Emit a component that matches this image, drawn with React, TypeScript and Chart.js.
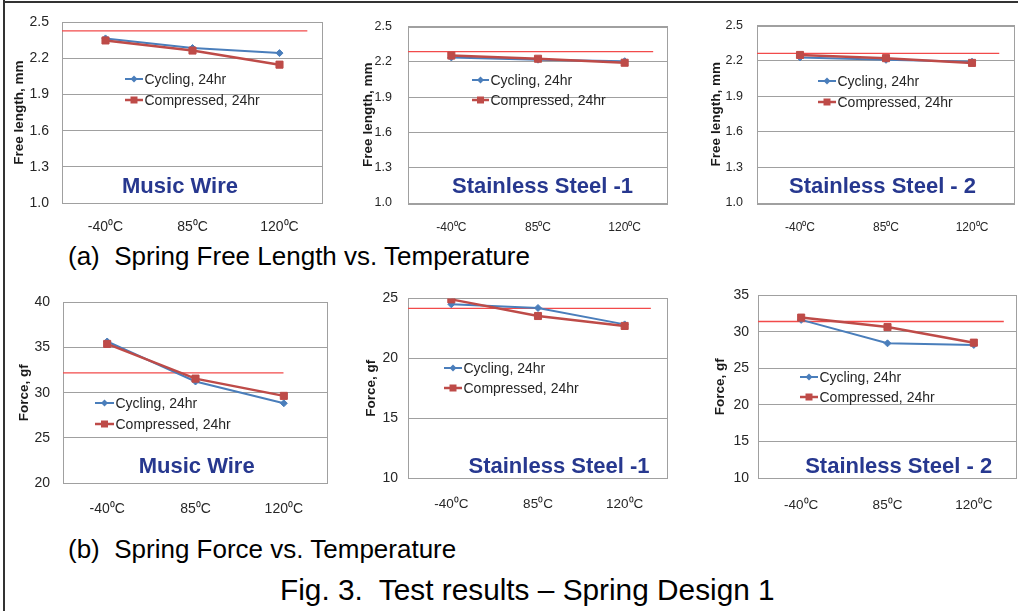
import React, { useEffect, useRef } from 'react';
import { Chart, registerables } from 'chart.js';

Chart.register(...registerables);
Chart.defaults.font.family = '"Liberation Sans", Arial, sans-serif';

// ---------- data ----------
const categories = ['-40\u2070C', '85\u2070C', '120\u2070C'];
const seriesNames = ['Cycling, 24hr', 'Compressed, 24hr'];

// (a) free length, mm
const musicWireCyclingLength = [2.367, 2.287, 2.245];
const musicWireCompressedLength = [2.35, 2.266, 2.149];
const ss1CyclingLength = [2.237, 2.218, 2.205];
const ss1CompressedLength = [2.253, 2.226, 2.192];
const ss2CyclingLength = [2.23, 2.21, 2.194];
const ss2CompressedLength = [2.251, 2.224, 2.184];

// (b) force, gf
const musicWireCyclingForce = [35.67, 31.24, 28.83];
const musicWireCompressedForce = [35.4, 31.56, 29.65];
const ss1CyclingForce = [24.51, 24.2, 22.83];
const ss1CompressedForce = [24.92, 23.53, 22.7];
const ss2CyclingForce = [31.65, 28.44, 28.22];
const ss2CompressedForce = [31.96, 30.66, 28.53];

// horizontal reference lines (value, and end of the line on a 0..1 axis)
const referenceLength = [2.43, 2.286, 2.265];
const referenceForce = [32.2, 24.16, 31.43];
const referenceLineEnd = [0.94, 0.943, 0.939, 0.832, 0.934, 0.949];

// tick labels
const lengthTicks = [1.0, 1.3, 1.6, 1.9, 2.2, 2.5];
const musicWireForceTicks = [20, 25, 30, 35, 40];
const ss1ForceTicks = [10, 15, 20, 25];
const ss2ForceTicks = [10, 15, 20, 25, 30, 35];

const materialNames = ['Music Wire', 'Stainless Steel -1', 'Stainless Steel - 2'];
const axisTitles = ['Free length, mm', 'Force, gf'];

// ---------- styles / layout ----------
const GRID = '#a0a0a0';
const BLUE = '#4a7ebb';
const RED = '#be4b48';
const REF = '#f24a4a';
const TITLE_BLUE = '#27388f';
const FONT = '"Liberation Sans", Arial, sans-serif';

type PanelSpec = {
  title: string;
  axisTitle: string;
  cycling: number[];
  compressed: number[];
  ticks: number[];
  decimals: number;
  ref: number;
  refEnd: number;
  plot: { l: number; r: number; t: number; b: number };
  axisTitleX: number;
  tickPad: number;
  xTickPad: number;
  yFont: number;
  xFont: number;
  legend: { x: number; textX: number; y1: number; y2: number };
  titleX: number;
  titleY: number;
};

const panels: PanelSpec[] = [
  {
    title: materialNames[0], axisTitle: axisTitles[0],
    cycling: musicWireCyclingLength, compressed: musicWireCompressedLength,
    ticks: lengthTicks, decimals: 1, ref: referenceLength[0], refEnd: referenceLineEnd[0],
    plot: { l: 62, r: 325, t: 15, b: 203 }, axisTitleX: 19, tickPad: 13, xTickPad: 8,
    yFont: 14, xFont: 14,
    legend: { x: 125, textX: 144, y1: 79, y2: 100 }, titleX: 180, titleY: 193,
  },
  {
    title: materialNames[1], axisTitle: axisTitles[0],
    cycling: ss1CyclingLength, compressed: ss1CompressedLength,
    ticks: lengthTicks, decimals: 1, ref: referenceLength[1], refEnd: referenceLineEnd[1],
    plot: { l: 408, r: 670, t: 17, b: 203 }, axisTitleX: 368, tickPad: 16, xTickPad: 9,
    yFont: 12.5, xFont: 12,
    legend: { x: 472, textX: 490, y1: 80, y2: 100 }, titleX: 542.5, titleY: 193,
  },
  {
    title: materialNames[2], axisTitle: axisTitles[0],
    cycling: ss2CyclingLength, compressed: ss2CompressedLength,
    ticks: lengthTicks, decimals: 1, ref: referenceLength[2], refEnd: referenceLineEnd[2],
    plot: { l: 757, r: 1017, t: 18, b: 203 }, axisTitleX: 716, tickPad: 14, xTickPad: 9,
    yFont: 12.5, xFont: 12,
    legend: { x: 818, textX: 837, y1: 81, y2: 102 }, titleX: 882.5, titleY: 193,
  },
  {
    title: materialNames[0], axisTitle: axisTitles[1],
    cycling: musicWireCyclingForce, compressed: musicWireCompressedForce,
    ticks: musicWireForceTicks, decimals: 0, ref: referenceForce[0], refEnd: referenceLineEnd[3],
    plot: { l: 63, r: 330, t: 295, b: 483 }, axisTitleX: 24.5, tickPad: 13, xTickPad: 10,
    yFont: 14, xFont: 14,
    legend: { x: 95, textX: 115, y1: 403, y2: 424 }, titleX: 196.7, titleY: 473,
  },
  {
    title: materialNames[1], axisTitle: axisTitles[1],
    cycling: ss1CyclingForce, compressed: ss1CompressedForce,
    ticks: ss1ForceTicks, decimals: 0, ref: referenceForce[1], refEnd: referenceLineEnd[4],
    plot: { l: 408, r: 670, t: 294, b: 478 }, axisTitleX: 371, tickPad: 10, xTickPad: 10,
    yFont: 14, xFont: 13.5,
    legend: { x: 444, textX: 463, y1: 368, y2: 388 }, titleX: 559, titleY: 473,
  },
  {
    title: materialNames[2], axisTitle: axisTitles[1],
    cycling: ss2CyclingForce, compressed: ss2CompressedForce,
    ticks: ss2ForceTicks, decimals: 0, ref: referenceForce[2], refEnd: referenceLineEnd[5],
    plot: { l: 758, r: 1019, t: 292, b: 478 }, axisTitleX: 720, tickPad: 9, xTickPad: 11,
    yFont: 14, xFont: 13.5,
    legend: { x: 800, textX: 819, y1: 377, y2: 397 }, titleX: 898.7, titleY: 473,
  },
];

function drawMarker(ctx: CanvasRenderingContext2D, shape: string, x: number, y: number, color: string) {
  ctx.fillStyle = color;
  ctx.beginPath();
  if (shape === 'diamond') {
    const r = 3.5;
    ctx.moveTo(x, y - r);
    ctx.lineTo(x + r, y);
    ctx.lineTo(x, y + r);
    ctx.lineTo(x - r, y);
    ctx.closePath();
  } else {
    const s = 3.5;
    ctx.rect(x - s, y - s, 2 * s, 2 * s);
  }
  ctx.fill();
}

function PanelChart({ p }: { p: PanelSpec }) {
  const ref = useRef<HTMLCanvasElement | null>(null);
  const cl = Math.floor(p.axisTitleX - 14);
  const ct = Math.floor(p.plot.t - 14);
  const cw = Math.round(p.plot.r + 4 - cl);
  const ch = Math.round(p.plot.b + 34 - ct);
  const yw = p.plot.l - cl;
  const xh = ct + ch - p.plot.b;
  const titleFontSize = 13.5;
  const titlePadTop = p.axisTitleX - cl - (titleFontSize * 1.2) / 2;

  useEffect(() => {
    const canvas = ref.current;
    if (!canvas) return;
    const overlay = {
      id: 'panelOverlay',
      beforeDatasetsDraw(chart: any) {
        const { ctx, chartArea: a } = chart;
        ctx.save();
        ctx.strokeStyle = GRID;
        ctx.lineWidth = 1;
        ctx.strokeRect(
          Math.round(a.left) + 0.5,
          Math.round(a.top) + 0.5,
          Math.round(a.right - a.left) - 1,
          Math.round(a.bottom - a.top)
        );
        ctx.restore();
      },
      afterDraw(chart: any) {
        const ctx: CanvasRenderingContext2D = chart.ctx;
        const ds = chart.data.datasets;
        ctx.save();
        const entries = [
          { y: p.legend.y1, color: BLUE, label: ds[0].label, shape: 'diamond', lw: 2 },
          { y: p.legend.y2, color: RED, label: ds[1].label, shape: 'square', lw: 2.5 },
        ];
        for (const e of entries) {
          const x0 = p.legend.x - cl;
          const x1 = p.legend.textX - cl - 1;
          const y = e.y - ct;
          ctx.strokeStyle = e.color;
          ctx.lineWidth = e.lw;
          ctx.beginPath();
          ctx.moveTo(x0, y);
          ctx.lineTo(x1, y);
          ctx.stroke();
          drawMarker(ctx, e.shape, (x0 + x1) / 2, y, e.color);
          ctx.fillStyle = '#262626';
          ctx.font = `14px ${FONT}`;
          ctx.textAlign = 'left';
          ctx.textBaseline = 'middle';
          ctx.fillText(e.label, p.legend.textX - cl + 0.5, y + 1);
        }
        ctx.font = `bold 22px ${FONT}`;
        ctx.fillStyle = TITLE_BLUE;
        ctx.textAlign = 'center';
        ctx.textBaseline = 'alphabetic';
        ctx.fillText(p.title, p.titleX - cl, p.titleY - ct);
        ctx.restore();
      },
    };

    const chart = new Chart(canvas, {
      type: 'line',
      data: {
        labels: categories,
        datasets: [
          {
            label: seriesNames[0],
            data: p.cycling,
            borderColor: BLUE,
            backgroundColor: BLUE,
            borderWidth: 2,
            pointStyle: 'rectRot',
            pointRadius: 3.5,
            pointBorderWidth: 1,
            xAxisID: 'x',
            yAxisID: 'y',
            order: 2,
          },
          {
            label: seriesNames[1],
            data: p.compressed,
            borderColor: RED,
            backgroundColor: RED,
            borderWidth: 2.5,
            pointStyle: 'rect',
            pointRadius: 5,
            pointBorderWidth: 1,
            xAxisID: 'x',
            yAxisID: 'y',
            order: 1,
          },
          {
            label: 'reference',
            data: [
              { x: 0, y: p.ref },
              { x: p.refEnd, y: p.ref },
            ],
            borderColor: REF,
            backgroundColor: REF,
            borderWidth: 1.3,
            pointRadius: 0,
            xAxisID: 'xr',
            yAxisID: 'y',
            order: 3,
          },
        ] as any,
      },
      options: {
        animation: false,
        responsive: false,
        devicePixelRatio: 1,
        events: [],
        layout: { padding: { left: 0, top: p.plot.t - ct, right: cl + cw - p.plot.r, bottom: 0 } },
        plugins: { legend: { display: false }, tooltip: { enabled: false }, title: { display: false } },
        scales: {
          x: {
            type: 'category',
            offset: true,
            grid: { display: false },
            border: { display: false },
            ticks: { color: '#262626', font: { size: p.xFont }, padding: p.xTickPad, maxRotation: 0, autoSkip: false },
            afterFit: (a: any) => {
              a.height = xh;
            },
          },
          xr: { type: 'linear', display: false, min: 0, max: 1 },
          y: {
            type: 'linear',
            min: p.ticks[0],
            max: p.ticks[p.ticks.length - 1],
            grid: { color: GRID, drawTicks: false, lineWidth: 1 },
            border: { display: false },
            ticks: {
              color: '#262626',
              font: { size: p.yFont },
              padding: p.tickPad,
              callback: (v: any) => Number(v).toFixed(p.decimals),
            },
            afterBuildTicks: (a: any) => {
              a.ticks = p.ticks.map((v) => ({ value: v }));
            },
            title: {
              display: true,
              text: p.axisTitle,
              color: '#1a1a1a',
              font: { size: titleFontSize, weight: 'bold' },
              padding: { top: titlePadTop, bottom: 0 },
            },
            afterFit: (a: any) => {
              a.width = yw;
            },
          },
        },
      } as any,
      plugins: [overlay],
    });
    return () => chart.destroy();
  }, []);

  return (
    <canvas
      ref={ref}
      width={cw}
      height={ch}
      style={{ position: 'absolute', left: cl, top: ct, width: cw, height: ch }}
    />
  );
}

const captionStyle: React.CSSProperties = {
  position: 'absolute',
  fontFamily: FONT,
  color: '#000',
  whiteSpace: 'pre',
  margin: 0,
};

export default function App() {
  return (
    <div
      style={{
        position: 'absolute',
        left: 0,
        top: 0,
        width: 1023,
        height: 611,
        background: '#fff',
        overflow: 'hidden',
      }}
    >
      <div style={{ position: 'absolute', left: 3, top: 0, width: 2, height: 611, background: '#333' }} />
      <div style={{ position: 'absolute', left: 3, top: 1, width: 1015, height: 2, background: '#333' }} />
      {panels.map((p, i) => (
        <PanelChart key={i} p={p} />
      ))}
      <div style={{ ...captionStyle, left: 68, top: 241, fontSize: 26, lineHeight: '30px' }}>
        {'(a)  Spring Free Length vs. Temperature'}
      </div>
      <div style={{ ...captionStyle, left: 68, top: 534, fontSize: 26, lineHeight: '30px' }}>
        {'(b)  Spring Force vs. Temperature'}
      </div>
      <div style={{ ...captionStyle, left: 280, top: 573, fontSize: 29.8, lineHeight: '33px' }}>
        {'Fig. 3.  Test results \u2013 Spring Design 1'}
      </div>
    </div>
  );
}
